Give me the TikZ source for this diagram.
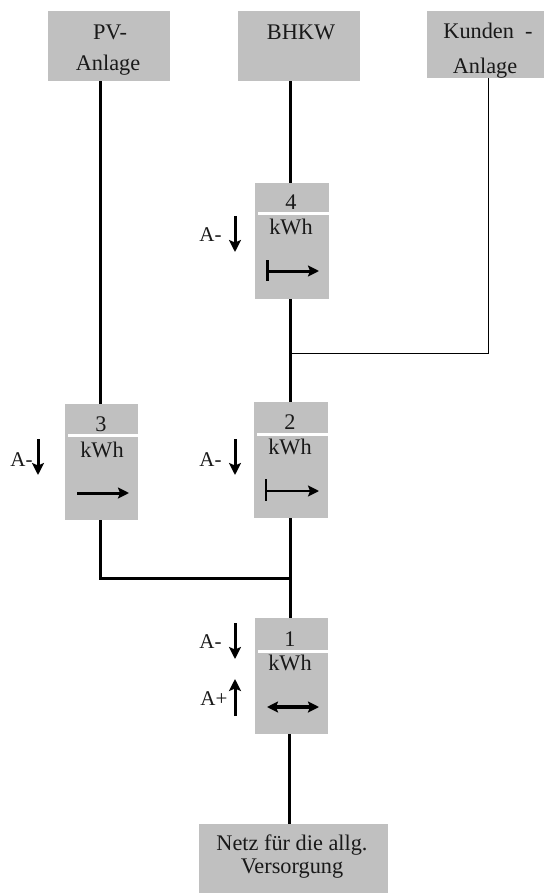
\documentclass[tikz,border=0pt]{standalone}
\usepackage{fontspec}
\setmainfont{Liberation Serif}
\usetikzlibrary{arrows.meta}
\definecolor{boxgray}{HTML}{C0C0C0}
\tikzset{
  graybox/.style={fill=boxgray,draw=none,inner sep=0pt,anchor=north west,minimum width=#1},
  lbl/.style={inner sep=0pt,font=\fontsize{22.3}{26}\selectfont,text=black!90},
  sidelbl/.style={inner sep=0pt,font=\fontsize{21}{25}\selectfont,text=black!90},
  wire/.style={line width=3pt,black},
  thinwire/.style={line width=1pt,black},
  divider/.style={line width=3pt,white},
  tip/.style={-{Stealth[length=12pt,width=12pt,inset=2.5pt]},line width=3pt},
  dirarrow/.style={-{Stealth[length=11pt,width=11pt,inset=2pt]},line width=#1},
}
\begin{document}
\begin{tikzpicture}[x=1pt,y=-1pt]
\useasboundingbox (0,0) rectangle (544,893);
% boxes
\node[graybox=122pt,minimum height=70pt] (pv) at (48,11) {};
\node[graybox=122pt,minimum height=70pt] (bhkw) at (238,11) {};
\node[graybox=117pt,minimum height=67pt] (kunden) at (427,11) {};
\node[graybox=74pt,minimum height=116pt] (m4) at (255,183) {};
\node[graybox=73pt,minimum height=116pt] (m3) at (65,404) {};
\node[graybox=74pt,minimum height=116pt] (m2) at (254,402) {};
\node[graybox=73pt,minimum height=116pt] (m1) at (255,618) {};
\node[graybox=189pt,minimum height=69pt] (netz) at (199,824) {};
% dividers
\draw[divider] (258,214) -- (329,214);
\draw[divider] (68,435) -- (138,435);
\draw[divider] (257,434) -- (328,434);
\draw[divider] (258,651) -- (329,651);
% junction points
\coordinate (j1) at (290,353);
\coordinate (j2) at (290,578);
% connectors
\draw[wire] ([xshift=-9pt]pv.south) -- ([xshift=-1.5pt]m3.north);
\draw[wire] ([xshift=-9pt]bhkw.south) -- ([xshift=-2pt]m4.north);
\draw[wire] ([xshift=-2pt]m4.south) -- ([xshift=-1pt]m2.north);
\draw[thinwire] ([xshift=2.5pt]kunden.south) -- ([xshift=2.5pt]kunden.south |- j1) -- (j1);
\draw[wire] ([xshift=-1.5pt]m3.south) -- ([xshift=-1.5pt]m3.south |- j2) -- (j2);
\draw[wire] ([xshift=-1pt]m2.south) -- ([xshift=-1.5pt]m1.north);
\draw[wire] ([xshift=-2.5pt]m1.south) -- ([xshift=-4.5pt]netz.north);
% box texts
\node[lbl] (t1) at (110,32) {PV-};
\node[lbl] (t2) at (108,65) {Anlage};
\node[lbl] (t3) at (301,32) {BHKW};
\node[lbl] (t4) at (488,31) {Kunden\ \ -};
\node[lbl] (t5) at (485,68) {Anlage};
\node[lbl] (t6) at (292,845) {Netz für die allg.};
\node[lbl] (t7) at (292,869) {Versorgung};
\node[lbl] (n4) at (291,202) {4};
\node[lbl] (k4) at (291,227) {kWh};
\node[lbl] (n3) at (101,424) {3};
\node[lbl] (k3) at (102,450) {kWh};
\node[lbl] (n2) at (290,422) {2};
\node[lbl] (k2) at (290,447) {kWh};
\node[lbl] (n1) at (290,639) {1};
\node[lbl] (k1) at (290,663) {kWh};
% side labels
\node[sidelbl] (a4) at (210.5,235) {A-};
\node[sidelbl] (a3) at (21.5,460) {A-};
\node[sidelbl] (a2) at (210.5,460) {A-};
\node[sidelbl] (a1) at (210.5,642) {A-};
\node[sidelbl] (ap) at (214,699) {A+};
% arrows in boxes
\draw[dirarrow=3pt] (267,271) -- (319,271);
\draw[line width=3pt] (267,260) -- (267,281);
\draw[dirarrow=3pt] (77,493) -- (129,493);
\draw[dirarrow=2pt] (266,491) -- (319,491);
\draw[line width=2pt] (266,479) -- (266,501);
\draw[{Stealth[length=11pt,width=11pt,inset=2pt]}-{Stealth[length=11pt,width=11pt,inset=2pt]},line width=3.5pt] (267,707) -- (319,707);
% side arrows
\draw[tip] (235,216) -- (235,252);
\draw[tip] (38,439) -- (38,475);
\draw[tip] (235,439) -- (235,475);
\draw[tip] (235,623) -- (235,659);
\draw[tip] (235,716) -- (235,679);
\end{tikzpicture}
\end{document}
